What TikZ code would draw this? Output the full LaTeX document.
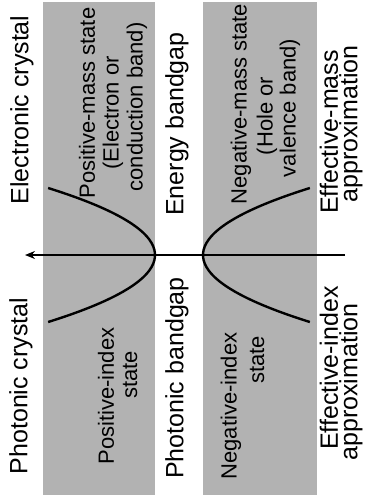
\documentclass[tikz,border=0pt]{standalone}
\usepackage{fontspec}
\setmainfont{Liberation Sans}
\usetikzlibrary{arrows.meta}
\tikzset{
  lbl/.style={rotate=90, inner sep=0pt, font=\fontsize{25}{27}\selectfont},
  inlbl/.style={lbl, font=\fontsize{22}{24}\selectfont},
  band/.style={fill=black!30, draw=none},
  curve/.style={line width=2.4pt},
}
\begin{document}
\begin{tikzpicture}[x=1pt,y=1pt,yscale=-1,xscale=1]
\useasboundingbox (0,0) rectangle (365,501);
% shaded bands
\fill[band] (43,2) rectangle (155,495);
\fill[band] (203,2) rectangle (317,495);
% dispersion curves
\draw[curve] plot[domain=-67:67, samples=40, smooth] ({155-0.0238*\x*\x},{255+\x});
\draw[curve] plot[domain=-67:67, samples=40, smooth] ({203+0.0238*\x*\x},{255+\x});
% axis
\coordinate (axR) at (345,255);
\coordinate (axL) at (25,255);
\draw[line width=1.4pt, -{Stealth[length=10pt,width=8pt]}] (axR) -- (axL);
% outer labels
\node[lbl] (elec) at (22,110) {Electronic crystal};
\node[lbl] (phot) at (21,386) {Photonic crystal};
\node[lbl] (egap) at (177,124) {Energy bandgap};
\node[lbl] (pgap) at (177,378) {Photonic bandgap};
\node[lbl] (effmA) at (329,132) {Effective-mass};
\node[lbl] (effmB) at (351,124) {approximation};
\node[lbl] (effiA) at (329,368) {Effective-index};
\node[lbl] (effiB) at (351,382) {approximation};
% labels inside the bands
\node[inlbl] (posmassA) at (87,103) {Positive-mass state};
\node[inlbl] (posmassB) at (113,113) {(Electron or};
\node[inlbl] (posmassC) at (137,107) {conduction band)};
\node[inlbl] (posidxA) at (106,396) {Positive-index};
\node[inlbl] (posidxB) at (130,375) {state};
\node[inlbl] (negmassA) at (241,104) {Negative-mass state};
\node[inlbl] (negmassB) at (267,116) {(Hole or};
\node[inlbl] (negmassC) at (290,108) {valence band)};
\node[inlbl] (negidxA) at (231,406) {Negative-index};
\node[inlbl] (negidxB) at (257,360) {state};
\end{tikzpicture}
\end{document}
